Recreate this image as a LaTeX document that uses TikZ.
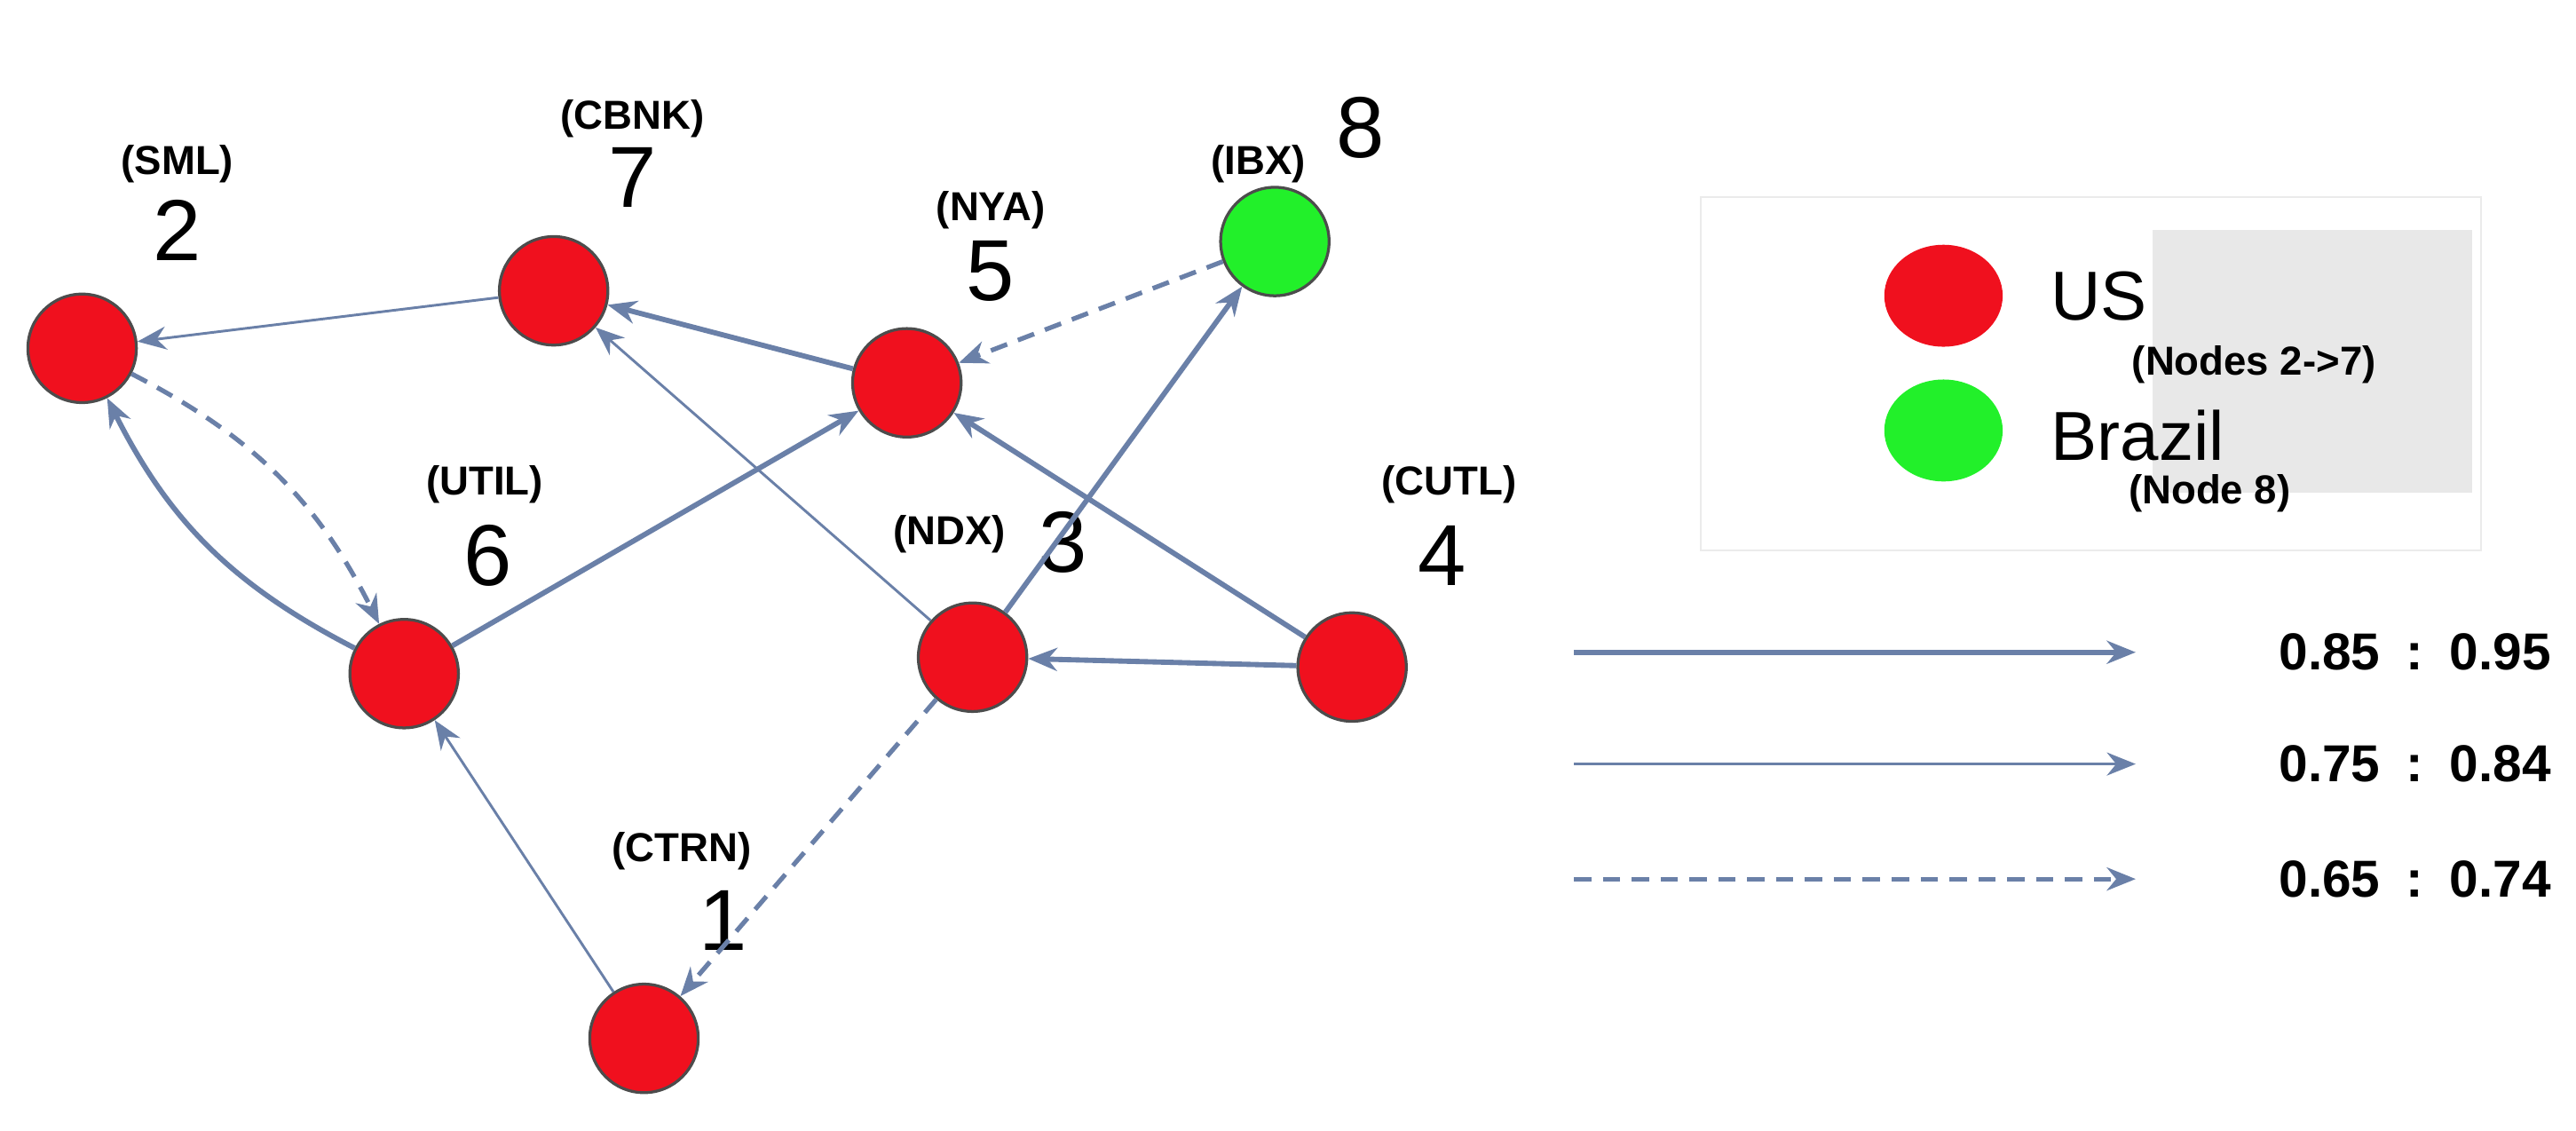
\documentclass[tikz,border=0pt]{standalone}
\usepackage{fontspec}
\setmainfont{Liberation Sans}
\usetikzlibrary{arrows.meta,shapes.geometric}
\definecolor{edgeblue}{HTML}{6A80A8}
\definecolor{usred}{HTML}{F0101E}
\definecolor{brgreen}{HTML}{22F02A}
\tikzset{
    stock/.style={circle,draw=black!70,line width=0.5pt,minimum size=0.66cm,inner sep=0pt},
    tag/.style={font=\bfseries\fontsize{7}{8}\selectfont},
    num/.style={font=\fontsize{15}{16}\selectfont},
    strong/.style={draw=edgeblue,line width=0.9pt,-{Stealth[length=5pt,width=4pt]}},
    weak/.style={draw=edgeblue,line width=0.45pt,-{Stealth[length=5pt,width=4pt]}},
    faint/.style={draw=edgeblue,line width=0.8pt,dashed,dash pattern=on 3pt off 2pt,-{Stealth[length=5pt,width=4pt]}}
}
\begin{document}
\begin{tikzpicture}[x=0.01cm,y=-0.01cm]
    \useasboundingbox (0,0) rectangle (1568,688);

    % Nodos
    \node[stock,fill=usred] (n2) at (50,212) {};
    \node[stock,fill=usred] (n7) at (337,177) {};
    \node[stock,fill=usred] (n5) at (552,233) {};
    \node[stock,fill=brgreen] (n8) at (776,147) {};
    \node[stock,fill=usred] (n6) at (246,410) {};
    \node[stock,fill=usred] (n3) at (592,400) {};
    \node[stock,fill=usred] (n4) at (823,406) {};
    \node[stock,fill=usred] (n1) at (392,632) {};

    % Etiquetas
    \node[tag] (t2) at (108,100) {(SML)};   \node[num] (l2) at (108,140) {2};
    \node[tag] (t7) at (385,72) {(CBNK)};   \node[num] (l7) at (385,108) {7};
    \node[tag] (t5) at (603,128) {(NYA)};   \node[num] (l5) at (603,165) {5};
    \node[tag] (t8) at (766,100) {(IBX)};   \node[num] (l8) at (828,78) {8};
    \node[tag] (t6) at (295,295) {(UTIL)};  \node[num] (l6) at (297,338) {6};
    \node[tag] (t3) at (578,325) {(NDX)};   \node[num] (l3) at (647,330) {3};
    \node[tag] (t4) at (882,295) {(CUTL)};  \node[num] (l4) at (878,338) {4};
    \node[tag] (t1) at (415,518) {(CTRN)};  \node[num] (l1) at (440,560) {1};

    % Aristas
    \draw[weak] (n7) -- (n2);
    \draw[strong] (n5) -- (n7);
    \draw[faint] (n8) -- (n5);
    \draw[faint] (n2) to[bend left=18] (n6);
    \draw[strong] (n6) to[bend left=18] (n2);
    \draw[strong] (n6) -- (n5);
    \draw[weak] (n3) -- (n7);
    \draw[strong] (n3) -- (n8);
    \draw[strong] (n4) -- (n5);
    \draw[strong] (n4) -- (n3);
    \draw[weak] (n1) -- (n6);
    \draw[faint] (n3) -- (n1);

    % Leyenda
    \draw[black!8,line width=0.3pt,fill=white] (1035,120) rectangle (1510,335);
    \fill[black!9] (1310,140) rectangle (1505,300);
    \node[ellipse,fill=usred,minimum width=0.72cm,minimum height=0.62cm,inner sep=0pt] (kus) at (1183,180) {};
    \node[ellipse,fill=brgreen,minimum width=0.72cm,minimum height=0.62cm,inner sep=0pt] (kbr) at (1183,262) {};
    \node[anchor=west,font=\fontsize{12}{13}\selectfont] (lus) at (1236,180) {US};
    \node[anchor=west,font=\fontsize{12}{13}\selectfont] (lbr) at (1236,265) {Brazil};
    \node[tag] (nus) at (1372,222) {(Nodes 2->7)};
    \node[tag] (nbr) at (1345,300) {(Node 8)};

    \coordinate (a1) at (958,397); \coordinate (b1) at (1300,397);
    \coordinate (a2) at (958,465); \coordinate (b2) at (1300,465);
    \coordinate (a3) at (958,535); \coordinate (b3) at (1300,535);
    \draw[strong] (a1) -- (b1);
    \draw[weak] (a2) -- (b2);
    \draw[faint] (a3) -- (b3);
    \node[tag,font=\bfseries\fontsize{9}{10}\selectfont] (v1) at (1470,397) {0.85\enspace:\enspace0.95};
    \node[tag,font=\bfseries\fontsize{9}{10}\selectfont] (v2) at (1470,465) {0.75\enspace:\enspace0.84};
    \node[tag,font=\bfseries\fontsize{9}{10}\selectfont] (v3) at (1470,535) {0.65\enspace:\enspace0.74};
\end{tikzpicture}
\end{document}
